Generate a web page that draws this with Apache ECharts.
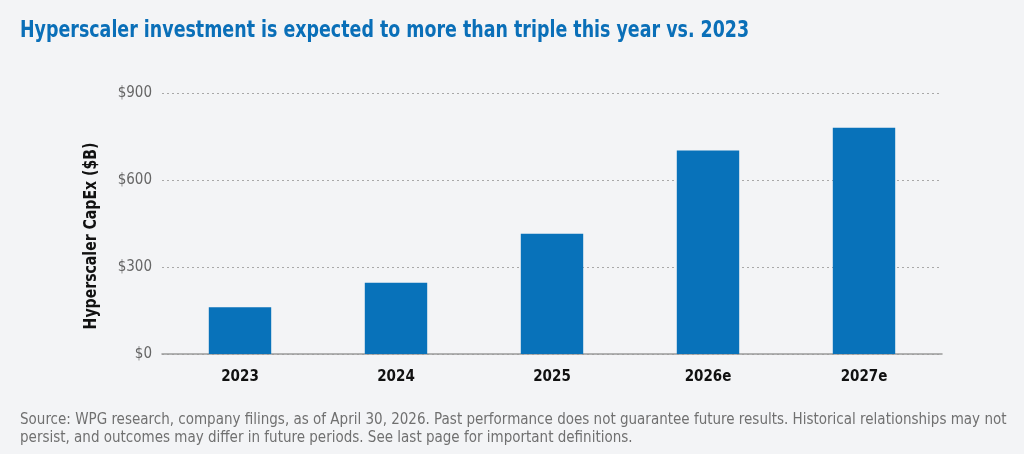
<!DOCTYPE html>
<html>
<head>
<meta charset="utf-8">
<script src="https://cdn.jsdelivr.net/npm/echarts@6/dist/echarts.min.js"></script>
<style>
  html, body { margin: 0; padding: 0; background: #f3f4f6; }
  #chart { width: 1024px; height: 454px; }
</style>
</head>
<body>
<div id="chart"></div>
<script>
// values, $B
const years = ['2023', '2024', '2025', '2026e', '2027e'];
const capex = [161, 246, 415, 702, 780];
const yTicks = [0, 300, 600, 900];

const narrow = '"Liberation Sans Narrow", "DejaVu Sans Condensed", sans-serif';

const chart = echarts.init(document.getElementById('chart'));
chart.setOption({
  backgroundColor: '#f3f4f6',
  animation: false,
  grid: { left: 162, right: 82, top: 93, bottom: 100, containLabel: false },
  xAxis: {
    type: 'category',
    data: years,
    axisTick: { show: false },
    axisLine: { lineStyle: { color: '#9a9a9a', width: 1.5 } },
    axisLabel: { color: '#111', fontSize: 15, fontWeight: 'bold', fontFamily: narrow, margin: 16 }
  },
  yAxis: {
    type: 'value',
    min: 0,
    max: yTicks[yTicks.length - 1],
    interval: 300,
    axisLine: { show: false },
    axisTick: { show: false },
    axisLabel: {
      color: '#666', fontSize: 15, fontFamily: narrow, margin: 10,
      formatter: v => '$' + v
    },
    splitLine: { lineStyle: { color: '#a8a8a8', type: [2, 3], width: 1 } }
  },
  series: [{
    type: 'bar',
    data: capex,
    barWidth: '40%',
    itemStyle: { color: '#0872ba' }
  }],
  graphic: [
    {
      // title, squeezed to the width of the condensed face in the original
      type: 'text',
      x: 20, y: 31,
      scaleX: 0.843,
      style: {
        text: 'Hyperscaler investment is expected to more than triple this year vs. 2023',
        fill: '#0a6fb8', fontSize: 23, fontWeight: 'bold', fontFamily: narrow,
        align: 'left', verticalAlign: 'middle'
      }
    },
    {
      type: 'text',
      x: 92, y: 236,
      rotation: Math.PI / 2,
      scaleX: 0.92,
      style: {
        text: 'Hyperscaler CapEx ($B)',
        fill: '#111', fontSize: 17, fontWeight: 'bold', fontFamily: narrow,
        align: 'center', verticalAlign: 'middle'
      }
    },
    {
      type: 'text',
      left: 20, top: 411,
      style: {
        text: 'Source: WPG research, company filings, as of April 30, 2026. Past performance does not guarantee future results. Historical relationships may not\npersist, and outcomes may differ in future periods. See last page for important definitions.',
        fill: '#707070', fontSize: 15, lineHeight: 18, fontFamily: narrow
      }
    }
  ]
});
</script>
</body>
</html>
